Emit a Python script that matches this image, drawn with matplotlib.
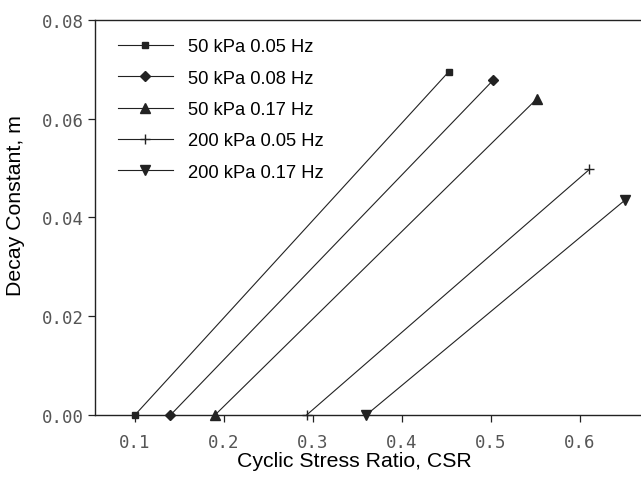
import matplotlib.pyplot as plt
import numpy as np

# Each series is a straight line from the CSR threshold (m = 0) to the end point
labels = [
    "50 kPa 0.05 Hz",
    "50 kPa 0.08 Hz",
    "50 kPa 0.17 Hz",
    "200 kPa 0.05 Hz",
    "200 kPa 0.17 Hz",
]
csr_start = [0.100, 0.140, 0.190, 0.293, 0.360]
csr_end = [0.453, 0.503, 0.552, 0.611, 0.651]
m_start = [0.0, 0.0, 0.0, 0.0, 0.0]
m_end = [0.0695, 0.0678, 0.0640, 0.0497, 0.0435]

markers = ["s", "D", "^", "+", "v"]
msizes = [5, 5, 7, 7, 7]

x_ticks = [0.1, 0.2, 0.3, 0.4, 0.5, 0.6]
y_ticks = [0.00, 0.02, 0.04, 0.06, 0.08]


def main():
    fig = plt.figure(figsize=(6.41, 4.81), dpi=100)
    ax = fig.add_axes([0.148, 0.135, 0.852, 0.822])

    ink = "#222222"
    for i, lab in enumerate(labels):
        ax.plot(
            [csr_start[i], csr_end[i]],
            [m_start[i], m_end[i]],
            color=ink,
            lw=0.8,
            marker=markers[i],
            ms=msizes[i],
            mew=1.0,
            mfc=ink,
            mec=ink,
            label=lab,
            clip_on=False,
        )

    ax.set_xlim(0.055, 0.669)
    ax.set_ylim(0.0, 0.08)
    ax.set_xticks(x_ticks)
    ax.set_yticks(y_ticks)
    ax.set_xticklabels([f"{v:.1f}" for v in x_ticks])
    ax.set_yticklabels([f"{v:.2f}" for v in y_ticks])

    for t in ax.get_xticklabels() + ax.get_yticklabels():
        t.set_fontfamily("DejaVu Sans Mono")
        t.set_fontsize(12.5)
        t.set_color("#555555")
    ax.tick_params(axis="both", direction="out", length=5, width=0.9, color=ink)
    ax.tick_params(axis="x", pad=8)
    ax.tick_params(axis="y", pad=3)

    for side in ["left", "bottom", "top"]:
        ax.spines[side].set_linewidth(1.0)
        ax.spines[side].set_color(ink)
    ax.spines["right"].set_visible(False)

    ax.set_xlabel("Cyclic Stress Ratio, CSR", family="Liberation Sans", size=15.3, va="center")
    ax.set_ylabel("Decay Constant, m", family="Liberation Sans", size=15.3, va="center")
    ax.xaxis.set_label_coords(0.476, -0.116)
    ax.yaxis.set_label_coords(-0.145, 0.532)

    ax.legend(
        loc="upper left",
        bbox_to_anchor=(0.184, 0.918),
        bbox_transform=fig.transFigure,
        frameon=False,
        prop=dict(family="Liberation Sans", size=13.2),
        handlelength=3.0,
        handletextpad=0.8,
        labelspacing=0.78,
        borderpad=0,
        borderaxespad=0,
    )

    fig.savefig("out.png", dpi=100)


if __name__ == "__main__":
    main()
